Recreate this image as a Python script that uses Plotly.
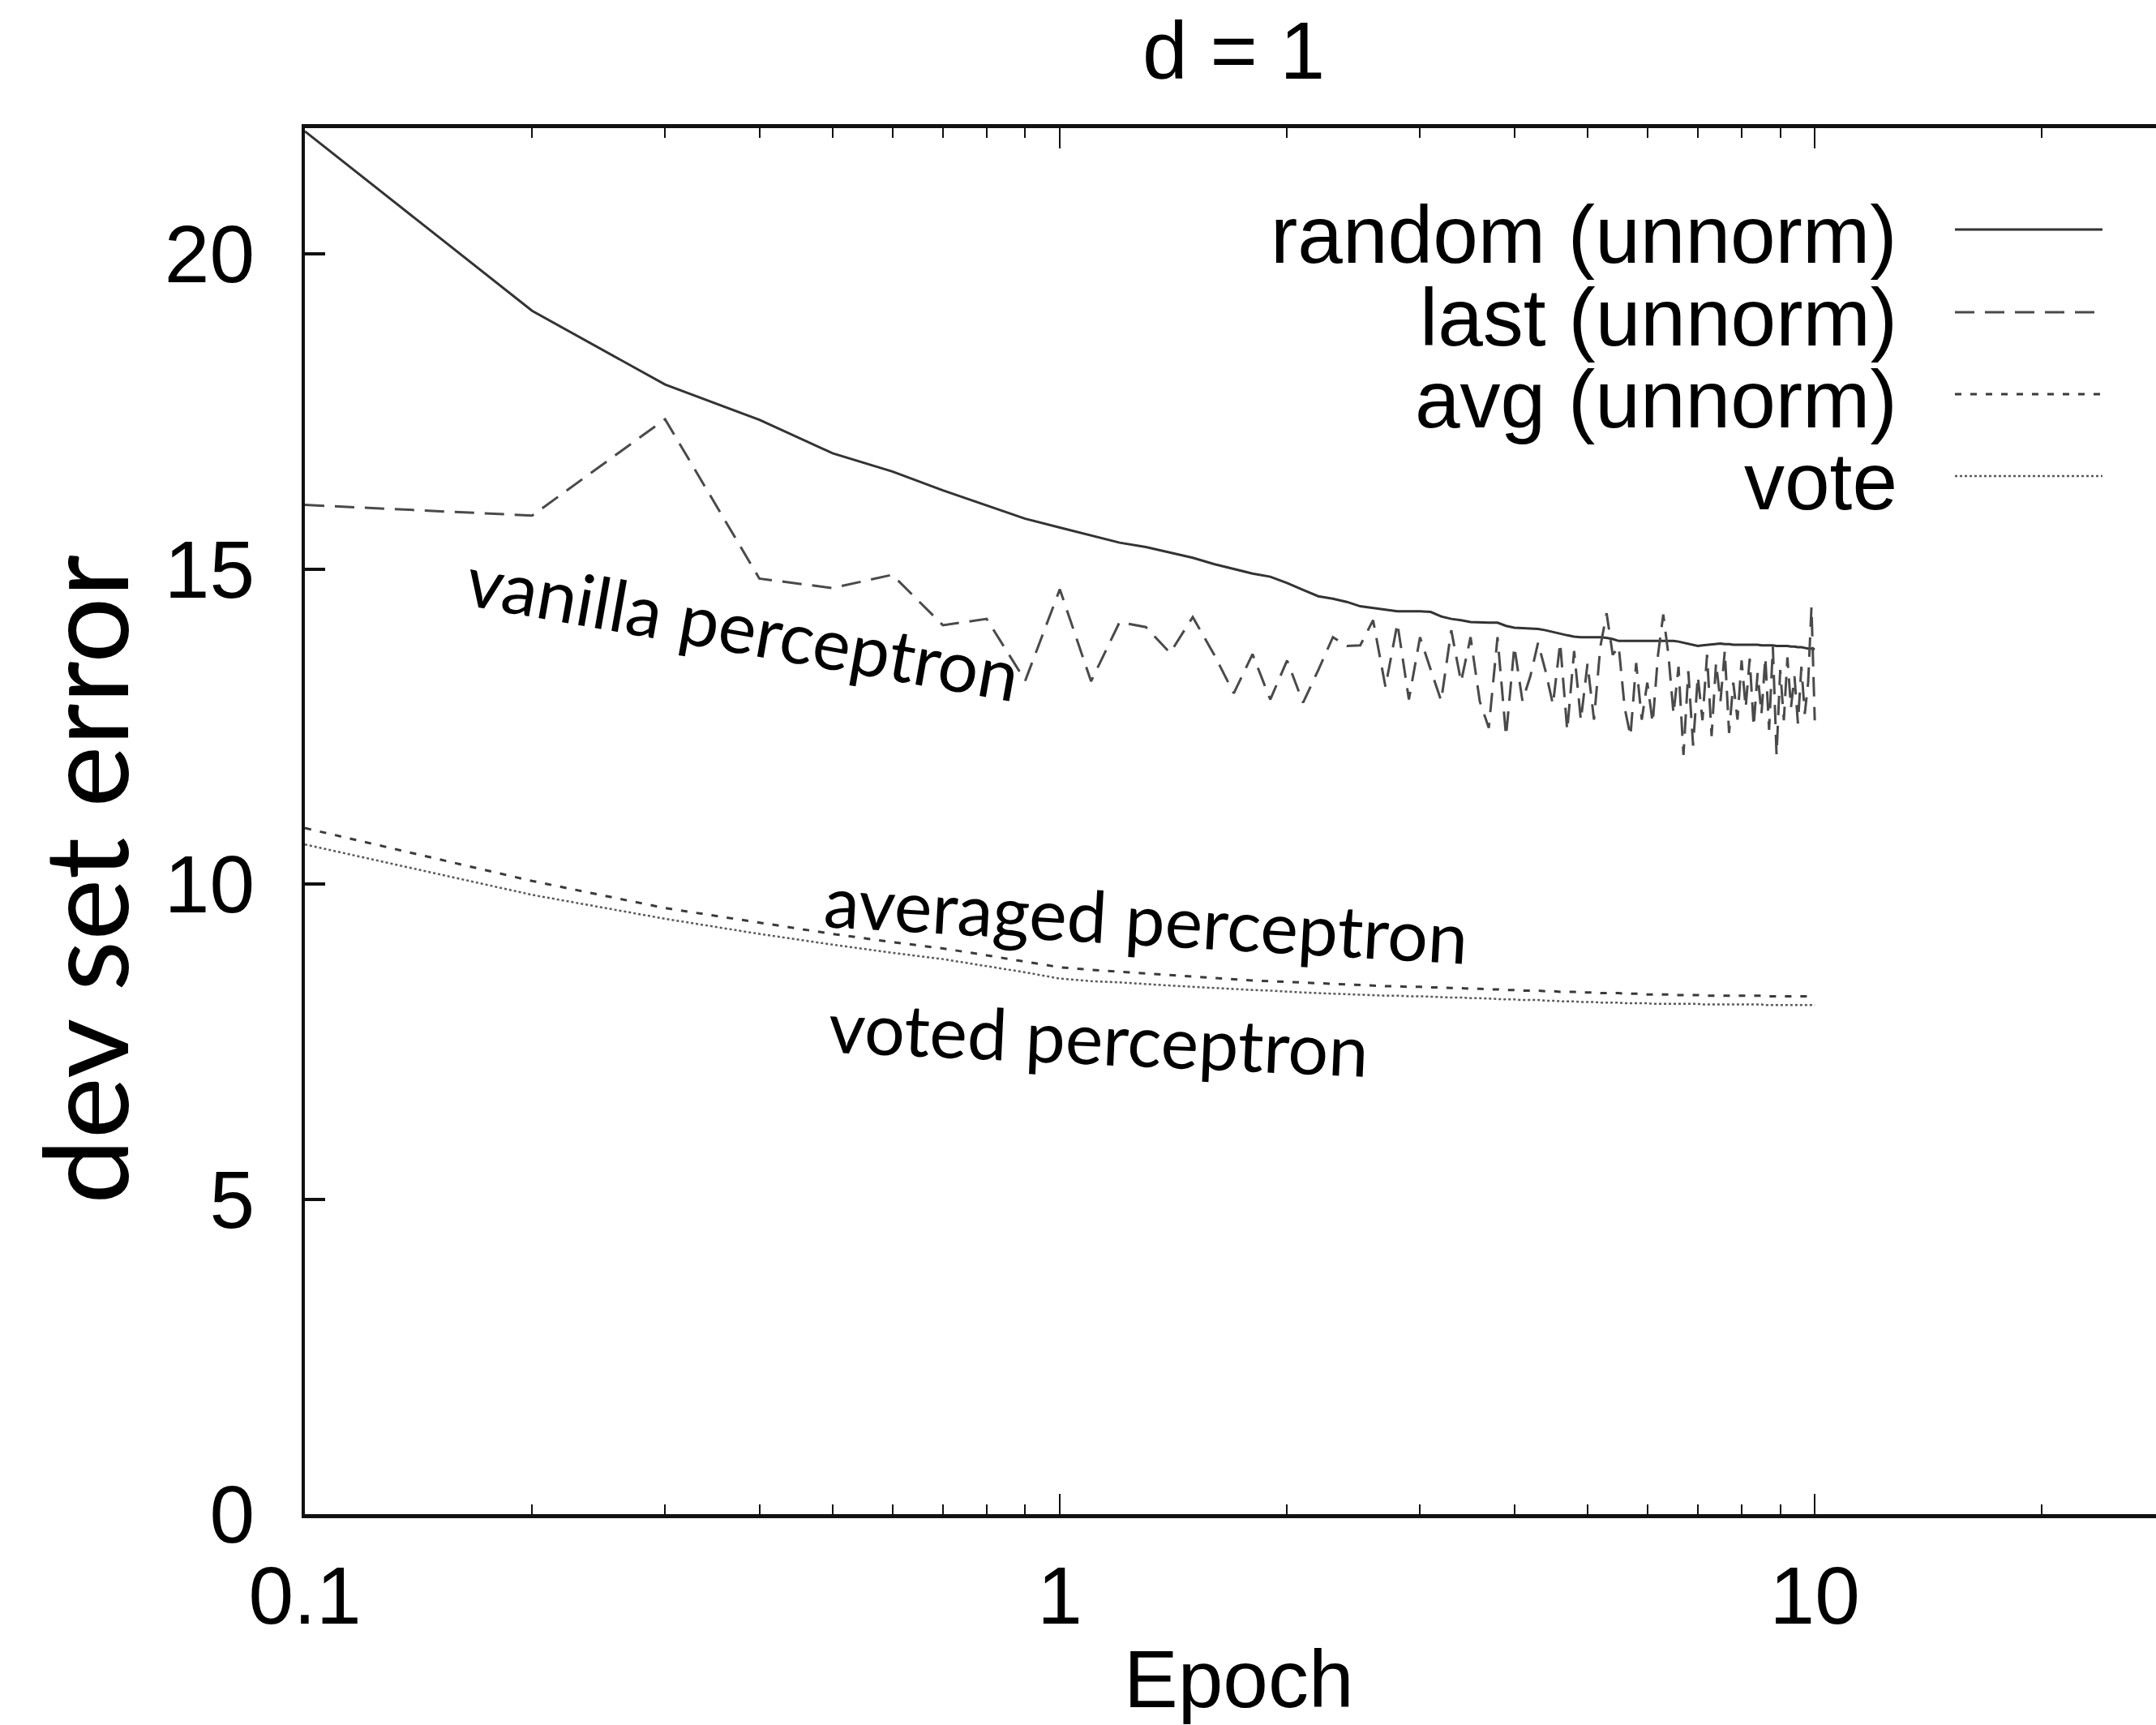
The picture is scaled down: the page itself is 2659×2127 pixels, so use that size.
import plotly.graph_objects as go

# ---------------- data ----------------
epochs = [0.1, 0.2, 0.3, 0.4, 0.5, 0.6, 0.7, 0.8, 0.9, 1.0,
          1.1, 1.2, 1.3, 1.4, 1.5, 1.6, 1.7, 1.8, 1.9, 2.0,
          2.1, 2.2, 2.3, 2.4, 2.5, 2.6, 2.7, 2.8, 2.9, 3.0,
          3.1, 3.2, 3.3, 3.4, 3.5, 3.6, 3.7, 3.8, 3.9, 4.0,
          4.1, 4.2, 4.3, 4.4, 4.5, 4.6, 4.7, 4.8, 4.9, 5.0,
          5.1, 5.2, 5.3, 5.4, 5.5, 5.6, 5.7, 5.8, 5.9, 6.0,
          6.1, 6.2, 6.3, 6.4, 6.5, 6.6, 6.7, 6.8, 6.9, 7.0,
          7.1, 7.2, 7.3, 7.4, 7.5, 7.6, 7.7, 7.8, 7.9, 8.0,
          8.1, 8.2, 8.3, 8.4, 8.5, 8.6, 8.7, 8.8, 8.9, 9.0,
          9.1, 9.2, 9.3, 9.4, 9.5, 9.6, 9.7, 9.8, 9.9, 10.0]

random_unnorm = [21.95, 19.10, 17.93, 17.37, 16.84, 16.55, 16.25, 16.01, 15.80, 15.66,
                 15.53, 15.42, 15.35, 15.26, 15.18, 15.08, 15.00, 14.93, 14.88, 14.78,
                 14.67, 14.57, 14.53, 14.48, 14.41, 14.38, 14.36, 14.33, 14.33, 14.33,
                 14.32, 14.25, 14.21, 14.19, 14.16, 14.15, 14.15, 14.15, 14.10, 14.07,
                 14.06, 14.06, 14.05, 14.03, 14.00, 13.97, 13.95, 13.93, 13.92, 13.92,
                 13.92, 13.92, 13.91, 13.89, 13.86, 13.86, 13.86, 13.86, 13.86, 13.86,
                 13.86, 13.86, 13.86, 13.86, 13.86, 13.85, 13.83, 13.81, 13.79, 13.78,
                 13.79, 13.80, 13.81, 13.82, 13.82, 13.81, 13.81, 13.80, 13.80, 13.80,
                 13.80, 13.80, 13.80, 13.80, 13.79, 13.79, 13.79, 13.79, 13.78, 13.78,
                 13.78, 13.78, 13.77, 13.77, 13.76, 13.76, 13.75, 13.74, 13.74, 13.73]

last_unnorm = [16.02, 15.85, 17.38, 14.85, 14.70, 14.91, 14.11, 14.21, 13.23, 14.68,
               13.22, 14.16, 14.08, 13.67, 14.24, 13.65, 13.03, 13.65, 12.93, 13.55,
               12.88, 13.40, 13.92, 13.78, 13.79, 14.19, 13.13, 14.14, 12.93, 13.92,
               13.40, 12.91, 14.03, 13.21, 13.92, 12.90, 12.48, 13.92, 12.35, 13.77,
               12.91, 13.30, 13.83, 13.38, 12.85, 13.83, 12.44, 13.70, 12.60, 13.50,
               12.61, 13.77, 14.30, 13.64, 13.77, 12.80, 12.35, 13.51, 12.61, 13.20,
               12.56, 13.64, 14.28, 13.64, 12.70, 13.45, 12.05, 13.38, 12.20, 13.30,
               12.60, 13.64, 12.35, 13.51, 12.90, 13.70, 12.40, 13.20, 12.61, 13.55,
               12.80, 13.58, 12.50, 13.35, 12.70, 13.60, 12.45, 13.77, 12.05, 13.40,
               12.60, 13.60, 12.80, 13.30, 12.55, 13.45, 12.70, 13.20, 14.40, 12.60]

avg_unnorm = [10.89, 10.05, 9.62, 9.39, 9.21, 9.08, 8.98, 8.87, 8.77, 8.68,
              8.64, 8.61, 8.58, 8.55, 8.53, 8.51, 8.49, 8.47, 8.46, 8.45,
              8.44, 8.43, 8.42, 8.41, 8.40, 8.39, 8.38, 8.38, 8.37, 8.37,
              8.36, 8.36, 8.35, 8.35, 8.34, 8.34, 8.33, 8.33, 8.32, 8.32,
              8.31, 8.31, 8.31, 8.30, 8.30, 8.29, 8.29, 8.29, 8.28, 8.28,
              8.28, 8.27, 8.27, 8.27, 8.27, 8.26, 8.26, 8.26, 8.26, 8.25,
              8.25, 8.25, 8.25, 8.25, 8.24, 8.24, 8.24, 8.24, 8.24, 8.24,
              8.23, 8.23, 8.23, 8.23, 8.23, 8.23, 8.23, 8.23, 8.23, 8.23,
              8.23, 8.23, 8.23, 8.23, 8.23, 8.22, 8.22, 8.22, 8.22, 8.22,
              8.22, 8.22, 8.22, 8.22, 8.22, 8.22, 8.22, 8.22, 8.22, 8.22]

vote = [10.63, 9.83, 9.45, 9.21, 9.04, 8.91, 8.81, 8.70, 8.60, 8.50,
        8.46, 8.44, 8.41, 8.39, 8.37, 8.35, 8.33, 8.32, 8.31, 8.29,
        8.28, 8.27, 8.26, 8.26, 8.25, 8.24, 8.23, 8.23, 8.22, 8.22,
        8.21, 8.21, 8.20, 8.20, 8.19, 8.19, 8.18, 8.18, 8.17, 8.17,
        8.16, 8.16, 8.16, 8.15, 8.15, 8.14, 8.14, 8.14, 8.13, 8.13,
        8.13, 8.12, 8.12, 8.12, 8.12, 8.11, 8.11, 8.11, 8.11, 8.11,
        8.10, 8.10, 8.10, 8.10, 8.10, 8.10, 8.10, 8.10, 8.10, 8.10,
        8.09, 8.09, 8.09, 8.09, 8.09, 8.09, 8.09, 8.09, 8.09, 8.09,
        8.09, 8.09, 8.09, 8.09, 8.09, 8.08, 8.08, 8.08, 8.08, 8.08,
        8.08, 8.08, 8.08, 8.08, 8.08, 8.08, 8.08, 8.08, 8.08, 8.08]

series_names = ["random (unnorm)", "last (unnorm)", "avg (unnorm)", "vote"]
x_major_ticks = [0.1, 1, 10]
x_minor_ticks = [0.2, 0.3, 0.4, 0.5, 0.6, 0.7, 0.8, 0.9,
                 2, 3, 4, 5, 6, 7, 8, 9, 20]
y_ticks = [0, 5, 10, 15, 20]

# ---------------- styles ----------------
styles = [
    dict(color="#333333", width=3, dash="solid"),
    dict(color="#4a4a4a", width=3, dash="24px,13px"),
    dict(color="#3a3a3a", width=3, dash="8px,11px"),
    dict(color="#5a5a5a", width=2.5, dash="3px,3px"),
]
series_vals = [random_unnorm, last_unnorm, avg_unnorm, vote]

W, H = 2659, 2127
ML, MT, MB = 376, 158, 260
plot_w = W - ML
plot_h = H - MT - MB

def px_x(p):
    return (p - ML) / plot_w

def px_y(p):
    return (H - MB - p) / plot_h

TICK_FONT = dict(family="Liberation Sans, Arial, Helvetica, sans-serif", size=100, color="black")
GILL = "Lato, 'Gill Sans', 'Open Sans', sans-serif"

fig = go.Figure()
for name, vals, st in zip(series_names, series_vals, styles):
    fig.add_trace(go.Scatter(x=epochs, y=vals, mode="lines", name=name,
                             line=st, showlegend=False))

# gnuplot-style key: text right-aligned, sample on the right
key_rows_px = [283, 385, 486, 587]
for name, st, ry in zip(series_names, styles, key_rows_px):
    fig.add_annotation(x=px_x(2342), y=px_y(ry + 6), xref="paper", yref="paper",
                       text=name, showarrow=False, xanchor="right", yanchor="middle",
                       font=TICK_FONT)
    fig.add_shape(type="line", xref="paper", yref="paper",
                  x0=px_x(2411), x1=px_x(2593), y0=px_y(ry), y1=px_y(ry),
                  line=st)

# in-plot labels
fig.add_annotation(x=px_x(916), y=px_y(772), xref="paper", yref="paper",
                   text="vanilla perceptron", showarrow=False, textangle=10,
                   xanchor="center", yanchor="middle",
                   font=dict(family=GILL, size=88, color="black"))
fig.add_annotation(x=px_x(1413), y=px_y(1132), xref="paper", yref="paper",
                   text="averaged perceptron", showarrow=False, textangle=3.3,
                   xanchor="center", yanchor="middle",
                   font=dict(family=GILL, size=88, color="black"))
fig.add_annotation(x=px_x(1355), y=px_y(1279), xref="paper", yref="paper",
                   text="voted perceptron", showarrow=False, textangle=2.6,
                   xanchor="center", yanchor="middle",
                   font=dict(family=GILL, size=88, color="black"))

# title, axis titles
fig.add_annotation(x=px_x(1521), y=px_y(62), xref="paper", yref="paper",
                   text="d = 1", showarrow=False, xanchor="center", yanchor="middle",
                   font=TICK_FONT)
fig.add_annotation(x=px_x(1528), y=px_y(2070), xref="paper", yref="paper",
                   text="Epoch", showarrow=False, xanchor="center", yanchor="middle",
                   font=TICK_FONT)
fig.add_annotation(x=px_x(102), y=px_y(1085), xref="paper", yref="paper",
                   text="dev set error", showarrow=False, textangle=-90,
                   xanchor="center", yanchor="middle",
                   font=dict(family=GILL, size=144, color="black"))

fig.update_layout(
    width=W, height=H,
    margin=dict(l=ML, r=0, t=MT, b=MB, pad=0),
    paper_bgcolor="white", plot_bgcolor="white",
    showlegend=False,
    xaxis=dict(type="log", range=[-1, 1.452], showgrid=False, zeroline=False,
               showline=True, linecolor="#111111", linewidth=5, mirror="ticks",
               ticks="inside", ticklen=25, tickwidth=2, tickcolor="#111111",
               tickmode="array", tickvals=x_major_ticks,
               ticktext=["0.1", "1", "10"], tickfont=TICK_FONT,
               ticklabelstandoff=10,
               minor=dict(ticks="inside", ticklen=12, tickwidth=2, tickcolor="#111111",
                          tickmode="array", tickvals=x_minor_ticks, showgrid=False)),
    yaxis=dict(range=[0, 22], showgrid=False, zeroline=False,
               showline=True, linecolor="#111111", linewidth=4,
               ticks="inside", ticklen=25, tickwidth=4, tickcolor="#111111",
               tickmode="array", tickvals=y_ticks, tickfont=TICK_FONT,
               ticklabelstandoff=38),
)

fig.write_html("out.html")
